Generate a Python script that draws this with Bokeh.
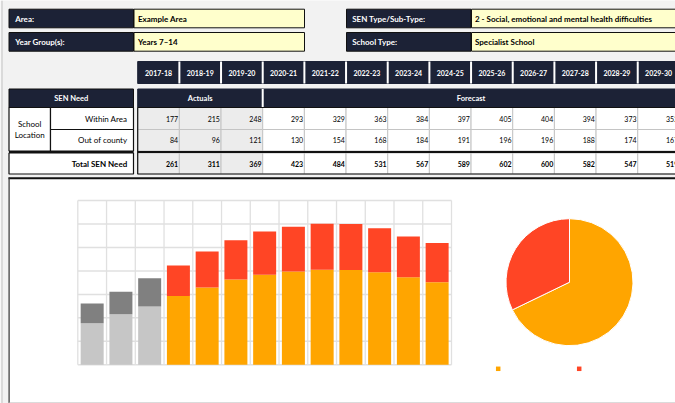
import numpy as np
from bokeh.plotting import figure
from bokeh.models import Range1d
from bokeh.embed import file_html
from bokeh.resources import INLINE
from bokeh.core.properties import value

# ---------------- data ----------------
area = "Example Area"
year_group = "Years 7\u201314"
sen_type = "2 - Social, emotional and mental health difficulties"
school_type = "Specialist School"
years = ["2017-18", "2018-19", "2019-20", "2020-21", "2021-22", "2022-23", "2023-24",
         "2024-25", "2025-26", "2026-27", "2027-28", "2028-29", "2029-30"]
within_area = [177, 215, 248, 293, 329, 363, 384, 397, 405, 404, 394, 373, 352]
out_of_county = [84, 96, 121, 130, 154, 168, 184, 191, 196, 196, 188, 174, 167]
total_need = [261, 311, 369, 423, 484, 531, 567, 589, 602, 600, 582, 547, 519]
n_actuals = 3
row_labels = ["Within Area", "Out of county"]
y_ticks = [0, 100, 200, 300, 400, 500, 600, 700]

# ---------------- style ----------------
FONT = "Lato"
NAVY = "#1c2236"
YELLOW = "#ffffcc"
PAGE = "#f2f2f2"
ACT_IN, ACT_OUT = "#c6c6c6", "#808080"
FC_IN, FC_OUT = "#ffa500", "#ff4525"
GRID = "#e0e0e0"

W, H = 675, 403
p = figure(width=W, height=H, x_range=Range1d(0, W), y_range=Range1d(H, 0),
           output_backend="svg", toolbar_location=None, min_border=0,
           x_axis_location=None, y_axis_location=None)
p.grid.visible = False
p.outline_line_color = None
p.background_fill_color = PAGE
p.border_fill_color = PAGE


def box(x0, x1, y0, y1, fill, line="#111111", lw=1.0):
    p.quad(left=[x0], right=[x1], top=[y0], bottom=[y1], fill_color=fill,
           line_color=line, line_width=lw)


def txt(x, y, s, size="8px", color="black", bold=False, align="left"):
    p.text(x=[x], y=[y], text=[s], text_font=value(FONT), text_font_size=size,
           text_color=color, text_font_style="bold" if bold else "normal",
           text_align=align, text_baseline="middle")


# page edge line
p.segment(x0=[1.5], x1=[1.5], y0=0, y1=H, line_color="#d2d2d2", line_width=1.5)

# ---------------- info boxes ----------------
for (y0, y1, lab, val) in [(8.7, 27.3, "Area:", area), (32.0, 50.7, "Year Group(s):", year_group)]:
    box(8.5, 133, y0, y1, NAVY)
    box(133.5, 304, y0, y1, YELLOW)
    txt(14.7, (y0 + y1) / 2, lab, color="white", bold=True)
    txt(137.5, (y0 + y1) / 2, val, bold=True)
for (y0, y1, lab, val) in [(8.7, 27.3, "SEN Type/Sub-Type:", sen_type), (32.0, 50.7, "School Type:", school_type)]:
    box(346, 470.5, y0, y1, NAVY)
    box(471, 720, y0, y1, YELLOW)
    txt(351.7, (y0 + y1) / 2, lab, color="white", bold=True)
    txt(474.5, (y0 + y1) / 2, val, bold=True)

# ---------------- year table ----------------
X0, DX = 137.2, 41.67
n = len(years)
lefts = [X0 + i * DX for i in range(n)]
rights = [X0 + (i + 1) * DX for i in range(n)]
XEND = rights[-1]

# year header row
p.quad(left=lefts, right=rights, top=61, bottom=83, fill_color=NAVY, line_color=NAVY)
p.segment(x0=rights[:-1], x1=rights[:-1], y0=61, y1=83, line_color="white", line_width=2)
p.text(x=[(a + b) / 2 for a, b in zip(lefts, rights)], y=72, text=years,
       text_font=value(FONT), text_font_size="7px", text_font_style="bold",
       text_color="white", text_align="center", text_baseline="middle")

# actuals / forecast row
box(X0, XEND, 88.5, 107, NAVY, line=NAVY)
p.segment(x0=[rights[n_actuals - 1]], x1=[rights[n_actuals - 1]], y0=88.5, y1=107,
          line_color="white", line_width=2)
txt((X0 + rights[n_actuals - 1]) / 2, 97.8, "Actuals", size="7.5px", color="white", bold=True, align="center")
txt((rights[n_actuals - 1] + XEND) / 2, 97.8, "Forecast", size="7.5px", color="white", bold=True, align="center")

# data cells
rows = [(107, 129, within_area, False), (129, 150.5, out_of_county, False), (152.5, 173.5, total_need, True)]
fills = ["#ececec" if i < n_actuals else "white" for i in range(n)]
for (y0, y1, vals, bold) in rows:
    p.quad(left=lefts, right=rights, top=y0, bottom=y1, fill_color=fills,
           line_color="#c4c4c4", line_width=1)
    p.text(x=[r - 1.2 for r in rights], y=(y0 + y1) / 2, text=[str(v) for v in vals],
           text_font=value(FONT), text_font_size="7px",
           text_font_style="bold" if bold else "normal",
           text_color="black", text_align="right", text_baseline="middle")
# outer borders of data table
p.quad(left=[X0], right=[XEND], top=[107], bottom=[173.5], fill_color=None,
       line_color="#111111", line_width=1.2)
p.segment(x0=[X0], x1=[XEND], y0=151.5, y1=151.5, line_color="#111111", line_width=2)

# left label table
box(8.5, 133, 88.5, 107, NAVY)
txt(70.7, 97.8, "SEN Need", size="7.5px", color="white", bold=True, align="center")
box(8.5, 50, 107, 150.5, "white", lw=1.2)
box(50, 133, 107, 129, "white", lw=1.2)
box(50, 133, 129, 150.5, "white", lw=1.2)
box(8.5, 133, 152.5, 173.5, "white", lw=1.2)
p.segment(x0=[8.5], x1=[133], y0=151.5, y1=151.5, line_color="#111111", line_width=2)
txt(29.2, 123.3, "School", align="center")
txt(29.2, 134.5, "Location", align="center")
txt(126.7, 118, row_labels[0], align="right")
txt(126.7, 139.8, row_labels[1], align="right")
txt(126.7, 163, "Total SEN Need", bold=True, align="right")

# ---------------- chart panel ----------------
p.quad(left=[8.5], right=[720], top=[178], bottom=[402], fill_color="white", line_color=None)
p.segment(x0=[8], x1=[720], y0=177.7, y1=177.7, line_color="#111111", line_width=2)
p.segment(x0=[8.6], x1=[8.6], y0=177, y1=403, line_color="#333333", line_width=1.2)
p.segment(x0=[8], x1=[720], y0=402.5, y1=402.5, line_color="#bdbdbd", line_width=1.2)

# stacked bar chart, placed through its own ranges
GL, GR, GB, GT = 77.3, 451.0, 364.3, 200.0
YMAX = y_ticks[-1]
kx = (GR - GL) / n
ky = (GB - GT) / YMAX
p.extra_x_ranges = {"bar": Range1d((0 - GL) / kx, (W - GL) / kx)}
p.extra_y_ranges = {"bar": Range1d(-(H - GB) / ky, GB / ky)}

p.segment(x0=0, x1=n, y0=y_ticks, y1=y_ticks, x_range_name="bar", y_range_name="bar",
          line_color=GRID, line_width=1.5)
xb = list(range(n + 1))
p.segment(x0=xb, x1=xb, y0=0, y1=YMAX, x_range_name="bar", y_range_name="bar",
          line_color=GRID, line_width=1.3)

xc = [i + 0.5 for i in range(n)]
stack_top = [a + b for a, b in zip(within_area, out_of_county)]
c_in = [ACT_IN if i < n_actuals else FC_IN for i in range(n)]
c_out = [ACT_OUT if i < n_actuals else FC_OUT for i in range(n)]
p.vbar(x=xc, width=0.8, bottom=0, top=within_area, fill_color=c_in, line_color=None,
       x_range_name="bar", y_range_name="bar")
p.vbar(x=xc, width=0.8, bottom=within_area, top=stack_top, fill_color=c_out, line_color=None,
       x_range_name="bar", y_range_name="bar")

# pie of the latest forecast year
pie_vals = np.array([within_area[-1], out_of_county[-1]], dtype=float)
frac = pie_vals / pie_vals.sum()
ang = np.pi / 2 - 2 * np.pi * np.concatenate([[0.0], np.cumsum(frac)])
p.wedge(x=569.0, y=281.7, radius=63.5, radius_units="screen",
        start_angle=ang[:-1], end_angle=ang[1:], direction="clock",
        fill_color=[FC_IN, FC_OUT], line_color="white", line_width=1)
p.scatter(x=[497.7, 578.7], y=[368.3, 368.3], marker="square", size=4.5,
          fill_color=[FC_IN, FC_OUT], line_color=None)

open("out.html", "w").write(file_html(p, INLINE))
